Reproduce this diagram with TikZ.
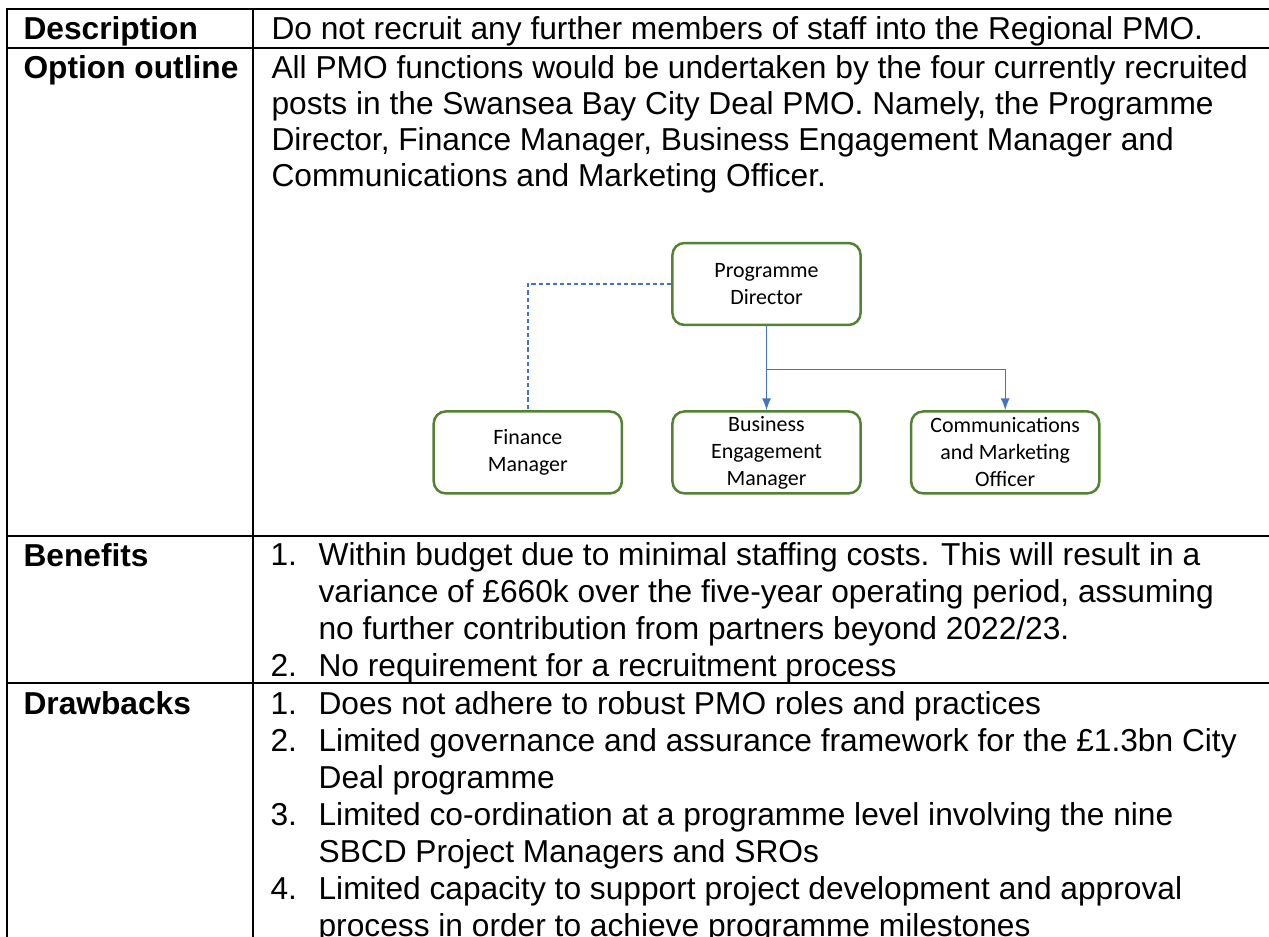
\documentclass[tikz,border=0pt]{standalone}
\usepackage{fontspec}
\setmainfont{Liberation Sans}
\newfontfamily\boxfont{Carlito}
\usetikzlibrary{positioning}
\definecolor{boxgreen}{RGB}{84,130,53}
\definecolor{linkblue}{RGB}{68,114,196}
\tikzset{>=latex}
\tikzset{
  tablerule/.style = {line width=0.75pt},
  % base of a multi-line cell = baseline of its last line
  cell/.style = {anchor=base west, inner sep=0pt, align=left,
    font=\fontsize{12}{13.6}\selectfont},
  head/.style = {cell, font=\fontsize{12}{13.6}\selectfont\bfseries},
  post/.style = {draw=boxgreen, line width=0.95pt, rounded corners=4.5pt,
    minimum width=71.2pt, minimum height=31pt, inner sep=0pt, align=center,
    font=\boxfont\fontsize{8.3}{10.2}\selectfont},
  report/.style = {draw=linkblue, line width=0.55pt},
}
\newcommand\listno[1]{\makebox[18.2pt][l]{#1}}
\newcommand\listgap{\hspace*{18.2pt}}

\begin{document}
\begin{tikzpicture}[x=0.3785pt,y=-0.3785pt]
  \useasboundingbox (0,0) rectangle (1269,937);
  % table
  \draw[tablerule] (7,945) -- (7,9) -- (1275,9);
  \draw[tablerule] (253,9) -- (253,945);
  \foreach \y in {48,536,683}
    \draw[tablerule] (7,\y) -- (1275,\y);
  %
  \node[head] (desc) at (23,40) {Description};
  \node[head] (outline) at (23,79) {Option outline};
  \node[head] (benefits) at (23,566) {Benefits};
  \node[head] (drawbacks) at (23,714) {Drawbacks};
  %
  \node[cell] (desctext) at (271,40)
    {Do not recruit any further members of staff into the Regional PMO.};
  \node[cell] (outlinetext) at (271,186.5)
    {All PMO functions would be undertaken by the four currently recruited\\
     posts in the Swansea Bay City Deal PMO. Namely, the Programme\\
     Director, Finance Manager, Business Engagement Manager and\\
     Communications and Marketing Officer.};
  \node[cell, font=\fontsize{12}{13.9}\selectfont] (benefitstext) at (270,676)
    {\listno{1.}Within budget due to minimal staffing costs. This will result in a\\
     \listgap variance of £660k over the five-year operating period, assuming\\
     \listgap no further contribution from partners beyond 2022/23.\\
     \listno{2.}No requirement for a recruitment process};
  \node[cell, font=\fontsize{12}{14}\selectfont] (drawbackstext) at (270,936)
    {\listno{1.}Does not adhere to robust PMO roles and practices\\
     \listno{2.}Limited governance and assurance framework for the £1.3bn City\\
     \listgap Deal programme\\
     \listno{3.}Limited co-ordination at a programme level involving the nine\\
     \listgap SBCD Project Managers and SROs\\
     \listno{4.}Limited capacity to support project development and approval\\
     \listgap process in order to achieve programme milestones};
  % org chart
  \node[post] (pd) at (766.5,284) {Programme\\Director};
  \node[post, below=31.8pt of pd] (bem) {Business\\Engagement\\Manager};
  \node[post, left=18.2pt of bem] (fm) {Finance\\Manager};
  \node[post, right=18.2pt of bem] (cmo) {Communications\\and Marketing\\Officer};
  \coordinate[below=16.3pt of pd.south] (split);
  %
  \draw[report,->] (pd) -- (bem);
  \draw[report,->] (split) -| (cmo);
  \draw[report,dash pattern=on 1.6pt off 1.1pt] (pd) -| (fm);
\end{tikzpicture}
\end{document}
